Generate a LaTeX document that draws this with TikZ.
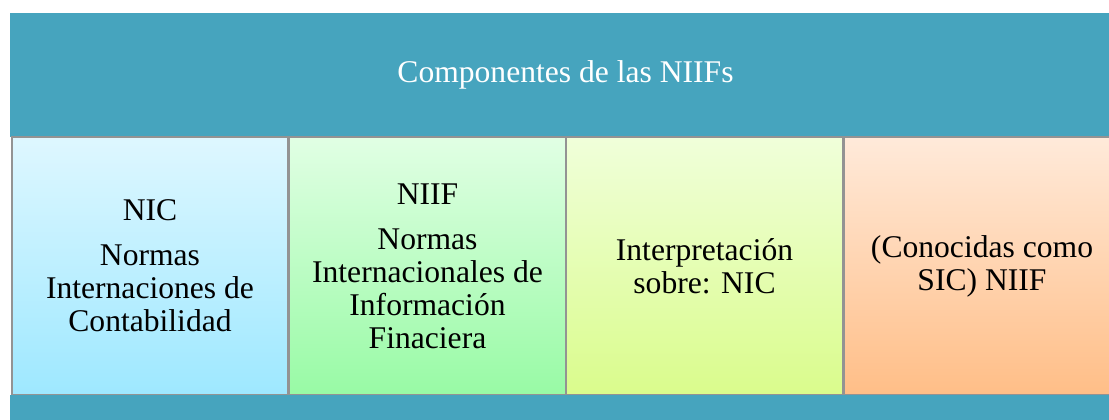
\documentclass[tikz,border=0pt]{standalone}
\usepackage{fontspec}
\setmainfont{Liberation Serif}
\usetikzlibrary{shadings}
\definecolor{tealband}{RGB}{70,164,190}
\definecolor{nicA}{RGB}{222,247,255}
\definecolor{nicB}{RGB}{158,232,255}
\definecolor{niifA}{RGB}{225,255,228}
\definecolor{niifB}{RGB}{152,250,165}
\definecolor{intA}{RGB}{240,255,218}
\definecolor{intB}{RGB}{218,252,140}
\definecolor{sicA}{RGB}{255,234,218}
\definecolor{sicB}{RGB}{255,190,135}
\newcommand{\bigtxt}{\fontsize{23.7}{24.75}\selectfont}

\begin{document}
\begin{tikzpicture}[x=0.75pt,y=-0.75pt,
   comp/.style={draw=gray!85,line width=0.9pt,minimum width=207pt,
      minimum height=193.5pt,inner sep=0pt,align=center,font=\bigtxt},
   band/.style={fill=tealband,inner sep=0pt,text=white,font=\bigtxt}]
   \fill[white] (0,0) rectangle (1109,419);
   \clip (0,0) rectangle (1109,419);
   \node (head) at (565.5,75) [band,minimum width=833pt,minimum height=93pt] {Componentes de las NIIFs};
   \node (nic) at (150,266) [comp,top color=nicA,bottom color=nicB]
      {NIC\\[9pt] Normas\\ Internaciones de\\ Contabilidad};
   \node (niif) at (427.5,266) [comp,top color=niifA,bottom color=niifB]
      {NIIF\\[9pt] Normas\\ Internacionales de\\ Información\\ Finaciera};
   \node (int) at (704.5,266) [comp,top color=intA,bottom color=intB]
      {Interpretación\\ sobre: NIC};
   \node (sic) at (982,266) [comp,top color=sicA,bottom color=sicB]
      {(Conocidas como\\ SIC) NIIF};
   \node (foot) at (565.5,412) [band,minimum width=833pt,minimum height=25.5pt] {};
\end{tikzpicture}
\end{document}
